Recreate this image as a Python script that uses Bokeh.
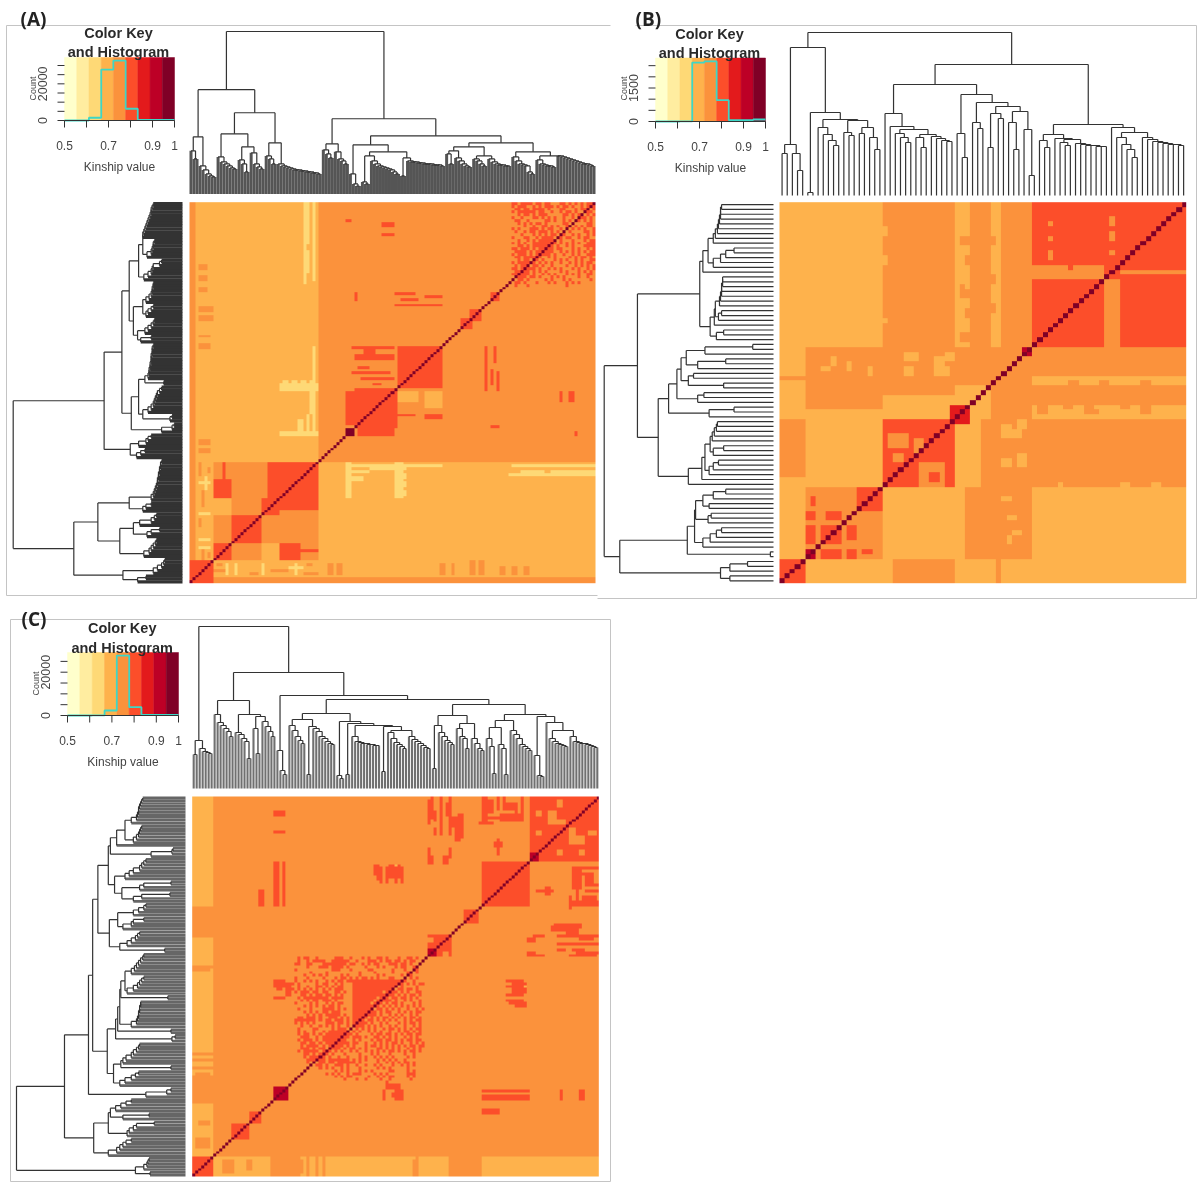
from math import pi
import numpy as np
from bokeh.plotting import figure
from bokeh.models import Range1d, LinearColorMapper
from bokeh.core.properties import value
from bokeh.embed import file_html
from bokeh.resources import INLINE

W, H = 1197, 1182

# ---------- colour key ----------
KEY_COLORS = ["#FFFFCC", "#FFEDA0", "#FED976", "#FEB24C", "#FB923C", "#FC4E2A", "#E31A1C", "#BD0026", "#800026"]
KEY_LABELS = [0.5, 0.7, 0.9, 1.0]
KEY_TICKS = [0.5, 0.6, 0.7, 0.8, 0.9, 1.0]

# ---------- histograms (bin edges on kinship value, counts) ----------
HIST_EDGES = [0.5, 0.611, 0.667, 0.722, 0.778, 0.833, 0.944, 1.0]
HIST_A = [0, 1500, 27800, 32700, 6400, 300, 300]
HIST_B = [0, 10, 2640, 2690, 955, 60, 90]
HIST_C = [0, 30, 2300, 27700, 3850, 300, 300]
COUNT_TICKS_A = [0, 5000, 10000, 15000, 20000, 25000, 30000]
COUNT_TICKS_B = [0, 500, 1000, 1500, 2000, 2500]
COUNT_TICKS_C = [0, 5000, 10000, 15000, 20000, 25000]

# ---------- dendrograms: 0 leaf, (height, a, b) merge, [h1, h2..] a ladder of merges ----------
TREE_A = (162,
    (104,
        (57, [43, 35], [28, 24, 20, 18, 17]),
        (81,
            (60, [37, 32, 30, 28, 26, 25], (47, [34, 30, 22], [41, 30, 27, 25])),
            (51, [38, 35, 30], [30, 28, 27, 26, 25, 24, 24, 23, 23, 22, 22, 21, 21, 20]))),
    (75,
        (50, [44, 40, 36], [42, 35, 33, 30]),
        (58,
            (49, [20, 10, 8],
                (42,
                    (38, [12, 10], [33, 30, 28, 27, 26, 25, 24, 22, 20]),
                    (36, [18], [33, 32, 32, 31, 31, 30, 30, 30, 29, 29, 29, 28]))),
            (51,
                (47,
                    (43, [40, 30], [36, 33, 30, 28, 27]),
                    (38, [35, 33, 30, 28], [35, 32, 30, 29, 29, 28, 28])),
                (42,
                    [37, 33, 30, 29, 28, 22, 20],
                    (38, [34, 30, 29, 28, 28, 27], [38, 37, 36, 35, 34, 33, 32, 31, 30, 30, 29, 28]))))))

TREE_B = (163,
    (148,
        (51, [42], (42, 0, [25])),
        (83, [3], (76, [68, 61, 55, 50], (75, [63, 60], (68, [62], (58, 0, [46])))))),
    (131,
        (111,
            (82, 0, (69, 0, (66, [62, 58, 53], (61, (58, 0, [48]), [59, 57, 55, 54])))),
            (101,
                (62, 0, [38]),
                (93,
                    (73, 0, [67]),
                    (89, (82, [48], [77]), (84, (73, 0, [46]), (66, 0, [20])))))),
        (71,
            (61, (55, 0, [48]), (57, 0, (56, (53, 0, [50]), [52, 51, 50, 50, 49, 49]))),
            (68, 0, (63, [58, 51, 46, 38], [58, 56, 54, 53, 52, 51, 51, 50])))))

TREE_C = (162,
    (48, [34], (40, 0, [37, 36, 35])),
    (116,
        (88,
            [74, 66, 63, 60, 57, 52],
            (74, [56, 54, 50, 47, 30], (72, [60, 35], [67, 62, 57, 52]))),
        (93,
            [38, 18, 14],
            (89,
                (75,
                    (69, [63, 58, 52, 48, 45], (62, [14], [60, 57, 52, 50, 47, 45, 44])),
                    (67, [13, 10], (65, [14], (63, [52, 47, 46, 45, 45, 44, 44, 43, 43],
                        (62, [17], (58, [56, 50, 46, 44, 42, 40], [52, 49, 47, 45, 43, 41, 40])))))),
                (84,
                    (73, (63, [20], [56, 52, 48, 46, 44]), (65, [60, 52, 50, 40], [50, 45, 40, 38])),
                    (74,
                        (68, (61, [50, 42, 15], [44, 40, 14]), [58, 54, 50, 44, 42, 40, 38]),
                        (72, [33, 13, 12], (66, 0, (58, [50, 47, 45, 44, 43, 42], [52, 47, 46, 45, 45, 44, 43, 42, 41])))))))))

# ---------- kinship matrices: (col0, col1, row0, row1, kinship), mirrored over the diagonal ----------
P, Y, O, R, D, V, K = 0.64, 0.69, 0.75, 0.80, 0.86, 0.92, 0.97

N_A, BASE_A = 135, Y
BLOCKS_A = [
    (43, 135, 43, 135, O), (8, 135, 0, 1.5, O),
    (14, 24, 25, 43, O), (8, 14, 14.5, 24, O), (8, 14, 37, 43, O), (24, 43, 24, 43, R), (24, 26, 30, 43, O),
    (8, 14, 29.5, 37, R), (14, 18.6, 19, 24, R), (19, 24, 19, 24, R), (14, 18.6, 14.5, 18.7, R), (19, 24, 14.5, 18.7, R),
    (7.5, 14, 8, 14, R), (24, 43, 14.5, 24, O), (30, 36, 10, 14, R), (36, 43, 11, 12.5, R), (0, 7.5, 0, 7.5, R),
    (8, 12, 4, 5, O), (9, 11, 6, 7, O), (12, 13, 3, 7, P), (15, 16, 3, 7, P), (20, 23, 3, 4, O), (24, 25, 3, 7, P), (27, 33, 4, 5, O), (33, 38, 5, 6, P), (35, 36, 3, 7, P), (38, 43, 3, 4, O), (39, 41, 6, 7, O),
    (46, 48, 3, 7, O), (49, 51, 3, 7, O), (83, 85, 3, 7, O), (87, 88.5, 3, 7, O), (93, 95, 3, 8, O), (96, 98.5, 3, 8, O), (103, 105, 3, 6, O), (107, 109, 3, 6, O), (111, 113, 3, 6, O),
    (52, 84, 41, 42, P), (52, 60, 39, 40, P), (60, 72, 39.5, 41, P), (52, 58, 36, 37.5, P), (68.5, 72, 31, 33, P), (68.5, 72, 34, 36, P),
    (107, 135, 41, 42, P), (110, 118, 39, 40, P), (120, 135, 39, 40, P), (68, 72, 37, 39, P),
    (30, 43, 68.5, 69.5, P), (30, 43, 70.5, 71, P), (30, 43, 52.5, 54, P), (37.5, 39, 106, 135, P),
    (68.7, 84, 68.7, 84, R), (56, 68.7, 55, 68.3, R), (52, 54.2, 57, 68, R), (56, 68.5, 52, 54.7, R), (52, 54.5, 52, 54.7, K),
    (69, 70.5, 69, 70.5, K), (89.6, 93, 90, 93.6, R), (93, 97, 93.6, 97, R), (99.6, 103.4, 100, 103.4, R),
    (68.5, 84, 98, 99, R), (70, 76, 100, 101, R), (78, 84, 101, 102, R), (68.5, 75, 102, 103, R),
    (52, 54, 126, 129, R), (122.8, 124, 64, 67.5, R), (125.5, 128.5, 64, 67.5, R), (100, 103, 55, 56, R), (122, 125, 52, 54, O), (126, 128, 52, 54, O),
]
ONCE_A = [
    (69, 76, 64, 68, Y), (78, 84, 62, 68, Y), (69, 75, 59, 60, R), (78, 84, 58, 59.5, R),
    (55, 68, 79, 81, R), (58, 62, 81, 83, R), (54, 67, 74, 75, R), (56, 60, 76, 77, R), (57, 68, 72, 73, R), (61, 64, 70, 71, R), (54, 68, 83, 84, R),
]
# speckled top-right family in A: first row is row 134, first char is column 105, r = red cell
SPECK_A = (105, 134, [
    "..rr.rrrr.rr.rr...rr.r.r.r.rr.",
    "..r.rrr..r.r.rrr.r.rr.r..r.r.r",
    "...rr.rr.rrrr.r...rr...r.rr..r",
    "..r.rrrrrr.rr..r..r.rr.r...rr.",
    "....r.rr.r.rrr.....rr.r.rr.r.r",
    "..r..r...rr.r.r.r..r..r..rr.r.",
    "...rr..r.....rr.r..r.r.rr.r.r.",
    "....r.r.r.rr.r.....rr.r....rr.",
    "......r..r..rr.r.r..r..r.r.rr.",
    "..r.r...rrr.r.rr..r...r.r.r..r",
    "...r..r.rr.rrr.r.r.r.r....rr.r",
    ".....r...r.r.r.rr..r..r.r..r.r",
    "..r...rr..r.rrrr.rr.rr..r.rr..",
    "....r..r.r.rrrrrr.r...r...r.rr",
    "..r.r.r..rrrrrrrr.r.r.r.r..rrr",
    "....rr.r.rrrrrrr.r..r.r...rrrr",
    "..rr.rrr.r.rrrrr.rr...r.r..r.r",
    "...rrrr.r.rrrrrr..r.r.r.r.r.rr",
    "..r.rrr.r.r.rrr.r..r..r.r..rrr",
    "...rr.rrrr.r..r.r....r.r.rr.r.",
    "....r.rr.rr.r...r.r.r..r.r..rr",
    "..r.rrrr.r.r.r.r..r..r.r.r.rr.",
    "...r.rrr.rr.r..r....r..r.r.r.r",
    "..rr.rrrrr.r..r.r.r...r.r..r.r",
    "...rrrrr.r.r.r....r.r...r.r.r.",
    "..rrrrrr.r..r.r.r...r.r.r..rr.",
    "...rrrr.rr.r...r.r.r....r..r..",
    "..r.rr.r.....r.r...r.r......r.",
    ".r.rr.r...r...r.r...r.r.r.....",
    "...r...r............r.........",
])

N_B, BASE_B = 79, Y
BLOCKS_B = [
    (20, 33.5, 49.3, 79, O), (0, 5, 22, 33.5, O), (5, 20, 42.6, 49.3, O), (5, 20, 36, 41.5, O),
    (33.5, 37.4, 49.3, 79, Y), (37.4, 41.3, 49.3, 79, O), (41.3, 42.6, 49.3, 79, Y), (42.6, 49.4, 49.3, 79, O),
    (20, 33.5, 39, 49.3, O), (49.4, 79, 20, 33.4, O), (40, 49.4, 20, 33.4, O), (36.8, 41.5, 5, 19.6, O), (42.6, 49.4, 5, 19.6, O), (41, 49, 33, 49, O),
    (22, 33, 0, 5, O), (5, 20, 5, 19.6, O), (15, 20, 15.4, 19.6, R),
    (5, 7, 13, 14.7, R), (9, 12, 13, 14.7, R), (5, 7, 8.2, 12, R), (8, 12, 8.2, 12, R), (12.8, 14.8, 8.8, 11.2, R),
    (8, 12, 5, 6.8, R), (12.8, 15, 5, 6.8, R), (16.4, 18, 5.8, 6.8, R), (5, 7, 5, 6.8, V),
    (20, 33.5, 20, 33.5, R), (49.4, 79, 49.3, 79, R), (0, 5, 0, 5, R),
    (47.5, 49.4, 46.7, 49.3, V), (33.5, 36.8, 33.4, 36.5, D),
    (24, 26, 46.5, 48, Y), (24, 26, 43, 45, Y), (30, 33, 43, 45, Y), (32, 34, 46, 48, Y),
    (50, 52, 35, 37, O), (55, 57, 36, 37, O), (59, 61, 35, 37, O), (66, 68, 36, 37, O), (70, 72, 35, 37, O),
    (10, 11, 45, 47, Y), (8, 10, 44, 45, Y), (13, 14, 44, 46, Y), (17, 18, 43, 45, Y),
    (0, 20, 42, 43, O), (49, 79, 41, 42, Y), (52, 54, 42, 43, Y), (60, 63, 42, 43, Y), (68, 71, 42, 43, Y),
    (45, 47, 30, 32, Y), (43, 44, 25, 26, Y), (46, 48, 25, 27, Y), (36, 37, 50, 52, O), (36, 37, 56, 57, O), (35, 36, 60, 62, O),
    (41, 42, 56, 58, O), (41, 42, 62, 64, O), (41, 42, 70, 72, O), (20, 21, 54, 55, Y), (20, 21, 66, 68, Y), (20, 21, 72, 74, Y),
]
ONCE_B = [
    (49.4, 63.4, 63.4, 66.2, O), (63.4, 66, 49.4, 63.4, O), (66.2, 79, 64.5, 65, O),
    (52, 53, 71, 72, O), (52, 53, 74, 75, O), (52, 53, 67, 69, O), (64, 65, 74.5, 75.5, O), (64, 65, 71, 73, O), (64, 65, 67.5, 69, O),
    (56, 57, 65, 66, R), (27, 32, 20, 25, O), (29, 31, 21, 23, R), (21, 25, 28, 31, O), (26, 28, 27, 30, O), (22, 24, 25, 27, O),
]

N_C, BASE_C = 135, O
BLOCKS_C = [
    (0, 7, 96, 135, Y), (0, 7, 34, 85, Y), (0, 7, 7, 26, Y),
    (0, 7, 43, 44, O), (0, 7, 41, 41.8, O), (0, 7, 38, 39, O), (0, 7, 34, 36, O), (0, 7, 74, 75, O),
    (10, 14, 1, 6, O), (18, 20, 2, 6, O), (26, 30, 1, 6, O), (33, 37, 1, 6, O), (73, 74, 0, 6, O),
    (0, 7, 0, 7, R), (13, 18.8, 12.8, 19, R), (19, 23, 19.3, 21.7, R), (27.6, 31.5, 27, 31, V),
    (95.5, 112, 27, 31, R), (95.5, 112, 29, 29.5, O), (96, 102, 22.5, 23.5, R), (122, 123, 27, 31, R), (128, 130, 27, 31, R), (63, 64.5, 27, 31, R), (67, 70, 27, 31, R),
    (28, 30, 66, 70, R), (31, 33, 64, 69, R),
    (112.3, 135, 111.7, 135, R), (118, 124, 125, 127, O), (126, 130, 118, 121, O), (114, 116, 128, 130, O), (121, 123, 114, 116, O), (131, 134, 121, 123, O), (112.3, 115, 111.7, 114.5, V),
    (95.5, 112.3, 95.7, 111.7, R), (89.6, 95, 89.8, 94.5, R), (78, 85.7, 78, 85, R), (78, 80.8, 77.6, 80, V), (78, 80, 83, 85, O),
    (105.6, 111, 65, 69, R), (106, 111, 67, 68, Y), (107, 111, 60, 62, R),
    (78, 79, 125, 134, R), (80, 81, 126, 130, R), (82, 83, 125, 135, R), (84, 85, 128, 133, R), (86, 88, 124, 128, R), (87, 89, 119, 124, R), (78, 80, 111, 114, R), (83, 85, 111, 114, R),
    (95, 100, 125, 126, R), (96, 97, 126, 135, R), (98, 100, 129, 134, R), (102, 110, 126, 127, R), (102, 110, 128, 129, R), (103, 108, 130, 133, R), (109, 110, 128, 135, R), (100, 103, 117, 119, R),
    (62, 63, 104, 110, R), (64, 65, 104, 110, R), (67, 68, 104, 110, R), (69, 70, 104, 110, R), (61, 62, 105, 110, R),
    (113, 117, 85, 86, R), (112, 117, 78, 79, R), (121, 135, 85, 86, R), (121, 127, 82, 83, R), (121, 124, 80, 81, R), (127, 135, 79, 80, R), (120, 129, 88.5, 90, R),
    (127, 128, 96, 110, R), (130, 135, 101, 102, R), (131, 135, 103, 104, R), (129, 133, 107, 108, R), (126, 135, 97, 98, R), (114, 120, 101, 102, R),
]
ONCE_C = []
# speckled central family in C: first row is row 77, first char is column 33, r = red cell
SPECK_C = (33, 77, [
    "..r.rr..r.....rrr..r...r.r..rr.r...r..rr.r..",
    "..r..r.rrrr..rrrrrr..r...rrr.r.rr.rr.r.rr...",
    ".rr..rr...rrrrrrrr.rr..r.r.rr...rrr.rr.r....",
    ".....r...rrr.rrrr.r.....r...r.r...r.rr..r...",
    ".r...........rrr...r.....rr......r...r...r...",
    "......r....r..........r....r.....r....rr.r...",
    "....r..r.r.r....r.r...r.....r.r.....r..r.....",
    ".r...r....r...r.rr.r.r.rr.r.r...rr...r.r.r...",
    ".r..r.r.r..r.r.rr.rrrrrrrrrrrrrrrrrr.r..r....",
    "r.r.....r.rr..r.r...rrrrrrrrrrrrrrrrr.r.r.rr.",
    "..r..r..rr.r.r.rr...rrrrrrrrrrrrrrr.r....r...",
    "r.r.r.r.r.r.r.rrr...rrrrrrrrrrrrrr.rr.rr.r...",
    ".r.rrr.rr.rr..rr.r..rrrrrrrrrr.rrrr.r.r..rr..",
    "...rr.r.rr.rr.r.r...rrrrrrrrrrr.rr.r.r.rr.r..",
    "..r.rrrrrrrr.rrrr...rrrrrrrr.rrr.rr.rr.r.r...",
    "...r.r.rr.rrr.r.....rrrrrrr.rrrrr.r..r.r..r..",
    ".r....r.r..r.r.rr...rrrrrr.rrr.r.rr.r...r.r..",
    "....r.r.r.r.rr.r....rrrrrrrrr.r.r.r.r.r.r.r..",
    "..r...r...rrrr.r.r..rrrrrrr.rr.r.r.r..r..r.r.",
    "....r.r.r.rr.rrr....rrrrr.rr.r.rr..r.r.r.rr..",
    ".....r.r.r.rrrrr.r..rrrrrrrr.r..r.r.r..r.r...",
    "..rr.rrr.r..rrr.r.r.rrrrr.r.r.rr.r.r.r.rr.r..",
    ".rrrrrrr.r.rr.rrr.r.rrrr.rr.r.r.r.r..r.r.rr..",
    ".r.r.r.r...rrr.rr.r.rrrrr.r..r.r...r.r.rr.r..",
    "...r..r..r.r.r.r..r..rrr.r.r.r..r.r..r..r.r..",
    "..r....rr....r.rrr...r.r.r.r..r.rr.r.r.r.rr..",
    "..r.r..r..r.rrrrrrr.r.r..r.r.r..r..r.rr.r.r..",
    "..r.rr.r.r.rrrrrrrrr.r....r.rr.rr.r.r.rr.rr..",
    "...rrr..r.rrrrrrrrr.rrr.r..rr.r.r.r..r.r.r...",
    "..r.rrr.r.rrrrrrrr..r.r...r.rr.rr.r.r.rr.rr..",
    "...rr.rr.r.rrrrrrrr.rr..r..r.r.r.rr.r..r.r.r.",
    "...r.rrrr.r.rrrrr.r.r...r.rr.r.r.r.r.r.rr.rr.",
    "...rrr.r.rr.rrrr.r.rr.r.r...rr.r.r.r..r.r.r..",
    "..r.rrrrr.r.r.r.r..r.r..r.r.r.r.rr.r.r.rr.r..",
    "....rr.r.rrr.r...r....r...r.r...r....r..r....",
    "....r.rrr.r.r..r..r...r.r..r.r.r.r....r.r....",
    ".....rrrrrr.rrrrrrr.r.r.r...r.r.r.r..r.......",
    ".....r.r.rr.rr.rrrrrr.r.....r..r.r.r.rr.r....",
    "......r.rr.r..rrr.r..r..r..r.r...r..r.r.r....",
    ".........r.r.r..r.r...r.....r.r.r.....r......",
    "..............r.r.r...r.r.r.....rr....r.r....",
    "...........r.r.r..r.rrr....r.r.r......rrr....",
    "..............r.r.rr.....r..r.r.rr....r.r....",
    ".................r...r..r....r..r......r.....",
    "...............................r.............",
])
SPECK_NONE = (0, 0, [])

# ---------- layout of the three panels ----------
PANELS = [
    dict(tag="(A)", tag_xy=(20, 18), frame=[(6, 25, 610, 25), (6, 595, 597, 595), (6, 25, 6, 595)],
         heat=(189, 595, 201.7, 582.7), n=N_A, base=BASE_A, blocks=BLOCKS_A, once=ONCE_A, speck=SPECK_A, tree=TREE_A,
         top=(193.5, 31, 162), left=(182, 12.7, 162), key=(64, 174, 57, 120), count_top=(65, 30000), hist=HIST_A, cticks=COUNT_TICKS_A, clabels=[0, 20000],
         ttl=(118, 32, 51), lab_y=(145, 166), rot=(42, 32, 88), leaf_top=("#555555", 3.0), leaf_left=("#333333", 3.2)),
    dict(tag="(B)", tag_xy=(635, 18), frame=[(635, 25, 1196, 25), (597, 598, 1196, 598), (1196, 25, 1196, 598)],
         heat=(779, 1185.7, 201.7, 582.7), n=N_B, base=BASE_B, blocks=BLOCKS_B, once=ONCE_B, speck=SPECK_NONE, tree=TREE_B,
         top=(195, 32, 163), left=(773, 603.7, 163), key=(655, 765, 57.5, 121), count_top=(87.5, 1500), hist=HIST_B, cticks=COUNT_TICKS_B, clabels=[0, 1500],
         ttl=(709, 33, 52), lab_y=(146, 167), rot=(633, 623, 88), leaf_top=("#333333", 1.2), leaf_left=("#333333", 1.2)),
    dict(tag="(C)", tag_xy=(21, 618), frame=[(10, 619, 610, 619), (10, 1181, 610, 1181), (10, 619, 10, 1181), (610, 619, 610, 1181)],
         heat=(191.7, 598.3, 796, 1176), n=N_C, base=BASE_C, blocks=BLOCKS_C, once=ONCE_C, speck=SPECK_C, tree=TREE_C,
         top=(788, 626, 162), left=(185, 16, 162), key=(67, 178, 652, 715), count_top=(671.7, 20000), hist=HIST_C, cticks=COUNT_TICKS_C, clabels=[0, 20000],
         ttl=(121.7, 627, 647), lab_y=(740, 761), rot=(45, 35, 683), leaf_top=("#707070", 2.1), leaf_left=("#666666", 2.7)),
]

p = figure(width=W, height=H, output_backend="svg", toolbar_location=None,
           x_range=Range1d(0, W), y_range=Range1d(H, 0), min_border=0, x_axis_type=None, y_axis_type=None)
p.grid.visible = False
p.outline_line_color = None
p.styles = {"position": "absolute", "left": "0px", "top": "0px", "filter": "blur(0.5px)"}


def add_x(name, px0, px1, v0, v1):
    s = (v1 - v0) / (px1 - px0)
    p.extra_x_ranges[name] = Range1d(v0 - px0 * s, v0 + (W - px0) * s)


def add_y(name, py0, py1, v0, v1):
    s = (v1 - v0) / (py1 - py0)
    p.extra_y_ranges[name] = Range1d(v0 + (H - py0) * s, v0 - py0 * s)


def expand(t):
    if isinstance(t, list):
        node = 0
        for h in reversed(t):
            node = (h, 0, node)
        return node
    return t


def walk(t, nleaf, segs, legs):
    t = expand(t)
    if t == 0:
        c = nleaf[0] + 0.5
        nleaf[0] += 1
        return c, 0.0, True
    h, a, b = t
    xa, ha, la = walk(a, nleaf, segs, legs)
    xb, hb, lb = walk(b, nleaf, segs, legs)
    segs.append((xa, h, xb, h))
    (legs if la else segs).append((xa, ha, xa, h))
    (legs if lb else segs).append((xb, hb, xb, h))
    return (xa + xb) / 2, h, False


def matrix(P_):
    n = P_["n"]
    M = np.full((n, n), P_["base"], dtype=float)
    for c0, c1, r0, r1, v in P_["blocks"]:
        c0, c1, r0, r1 = round(c0), round(c1), round(r0), round(r1)
        M[r0:r1, c0:c1] = v
        M[c0:c1, r0:r1] = v
    for c0, c1, r0, r1, v in P_["once"]:
        M[round(r0):round(r1), round(c0):round(c1)] = v
    col0, row0, rows = P_["speck"]
    for dr, line in enumerate(rows):
        for dc, ch in enumerate(line):
            if ch == "r" and row0 - dr < n and col0 + dc < n:
                M[row0 - dr, col0 + dc] = R
    for i in range(n):
        M[i, i] = K
    return M


mapper = LinearColorMapper(palette=KEY_COLORS, low=0.5, high=1.0)
FONT = value("Liberation Sans")

for i, P_ in enumerate(PANELS):
    tag = "abc"[i]
    # frame
    fr = np.array(P_["frame"])
    p.segment(x0=fr[:, 0], y0=fr[:, 1], x1=fr[:, 2], y1=fr[:, 3], line_color="#c4c4c4", line_width=1)

    # heat map
    n = P_["n"]
    hx0, hx1, hy0, hy1 = P_["heat"]
    add_x("hx" + tag, hx0, hx1, 0, n)
    add_y("hy" + tag, hy1, hy0, 0, n)
    p.image(image=[matrix(P_)], x=0, y=0, dw=n, dh=n, color_mapper=mapper,
            x_range_name="hx" + tag, y_range_name="hy" + tag)

    # dendrograms
    segs, legs, cnt = [], [], [0]
    walk(P_["tree"], cnt, segs, legs)
    f = n / cnt[0]
    base_t, root_t, h_max = P_["top"]
    add_y("dt" + tag, base_t, root_t, 0, h_max)
    base_l, root_l, h_max_l = P_["left"]
    add_x("dl" + tag, base_l, root_l, 0, h_max_l)
    for arr, col, wid in ((legs, *P_["leaf_top"]), (segs, "#333333", 1.2)):
        a = np.array(arr)
        p.segment(x0=a[:, 0] * f, y0=a[:, 1], x1=a[:, 2] * f, y1=a[:, 3], line_color=col, line_width=wid,
                  x_range_name="hx" + tag, y_range_name="dt" + tag)
    for arr, col, wid in ((legs, *P_["leaf_left"]), (segs, "#333333", 1.2)):
        a = np.array(arr)
        p.segment(x0=a[:, 1], y0=a[:, 0] * f, x1=a[:, 3], y1=a[:, 2] * f, line_color=col, line_width=wid,
                  x_range_name="dl" + tag, y_range_name="hy" + tag)

    # colour key with histogram
    kx0, kx1, ky0, ky1 = P_["key"]
    add_x("kx" + tag, kx0, kx1, 0.5, 1.0)
    add_y("ky" + tag, ky1, P_["count_top"][0], 0, P_["count_top"][1])
    step = 0.5 / len(KEY_COLORS)
    edges = [0.5 + step * j for j in range(len(KEY_COLORS))]
    p.quad(left=edges, right=[e + step for e in edges], top=[ky0] * 9, bottom=[ky1] * 9, fill_color=KEY_COLORS,
           line_color=KEY_COLORS, line_width=0.5, x_range_name="kx" + tag)
    hx, hy = [HIST_EDGES[0]], [P_["hist"][0]]
    for j, c in enumerate(P_["hist"]):
        hx += [HIST_EDGES[j], HIST_EDGES[j + 1]]
        hy += [c, c]
    p.line(hx, hy, line_color="#3ed6c6", line_width=1.8, x_range_name="kx" + tag, y_range_name="ky" + tag)

    # hand-drawn key axes
    p.segment(x0=[0.5], y0=[ky1], x1=[1.0], y1=[ky1], line_color="#333333", line_width=1, x_range_name="kx" + tag)
    p.segment(x0=KEY_TICKS, y0=[ky1] * 6, x1=KEY_TICKS, y1=[ky1 + 7] * 6, line_color="#333333", line_width=1, x_range_name="kx" + tag)
    ct = P_["cticks"]
    p.segment(x0=[kx0] * len(ct), y0=ct, x1=[kx0 - 7] * len(ct), y1=ct, line_color="#333333", line_width=1, y_range_name="ky" + tag)
    p.text(x=KEY_LABELS, y=[P_["lab_y"][0]] * 4, text=["0.5", "0.7", "0.9", "1"], text_font=FONT, text_font_size="12px",
           text_color="#444444", text_align="center", text_baseline="middle", x_range_name="kx" + tag)
    p.text(x=[(kx0 + kx1) / 2], y=[P_["lab_y"][1]], text=["Kinship value"], text_font=FONT, text_font_size="12px",
           text_color="#444444", text_align="center", text_baseline="middle")
    rx, cx, cy = P_["rot"]
    p.text(x=[rx] * 2, y=P_["clabels"], text=[str(v) for v in P_["clabels"]], angle=pi / 2, text_font=FONT, text_font_size="12.5px",
           text_color="#444444", text_align="center", text_baseline="middle", y_range_name="ky" + tag)
    p.text(x=[cx], y=[cy], text=["Count"], angle=pi / 2, text_font=FONT, text_font_size="9px",
           text_color="#444444", text_align="center", text_baseline="middle")
    tx, t1, t2 = P_["ttl"]
    p.text(x=[tx, tx], y=[t1, t2], text=["Color Key", "and Histogram"], text_font=FONT, text_font_style="bold", text_font_size="14.5px",
           text_color="#2a2a2a", text_align="center", text_baseline="middle")
    p.text(x=[P_["tag_xy"][0]], y=[P_["tag_xy"][1]], text=[P_["tag"]], text_font=value("Open Sans"), text_font_style="bold",
           text_font_size="19px", text_color="#222222", text_align="left", text_baseline="middle")

open("out.html", "w").write(file_html(p, INLINE))
